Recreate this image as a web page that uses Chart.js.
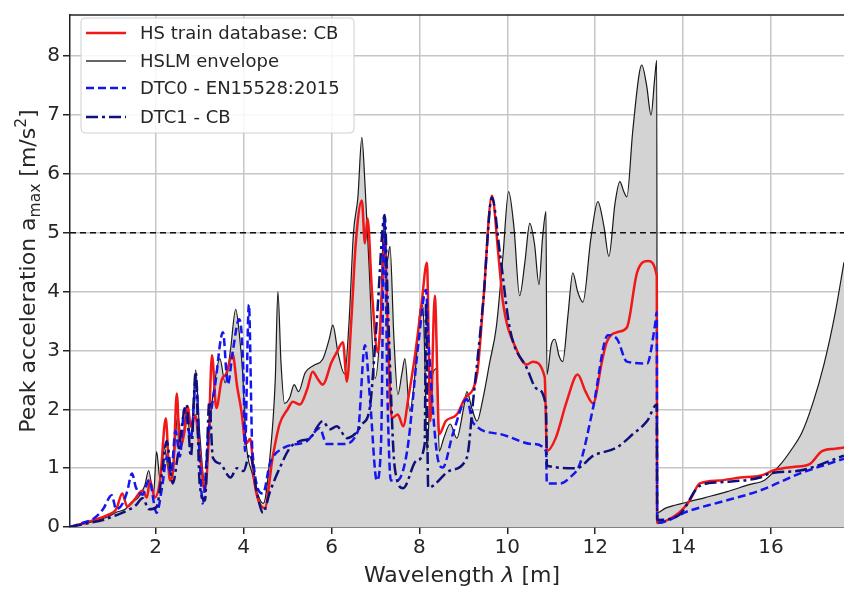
<!DOCTYPE html>
<html>
<head>
<meta charset="utf-8">
<script src="https://cdn.jsdelivr.net/npm/chart.js@4/dist/chart.umd.min.js"></script>
<style>
  html, body { margin: 0; padding: 0; background: #fff; }
  canvas { display: block; }
</style>
</head>
<body>
<canvas id="myChart" width="844" height="590"></canvas>
<script>
// tick labels
var xTicks = [2, 4, 6, 8, 10, 12, 14, 16];
var yTicks = [0, 1, 2, 3, 4, 5, 6, 7, 8];
var xRange = [0.05, 17.66];
var yRange = [0, 8.7];
var limitY = 5;

var seriesNames = ["HS train database: CB", "HSLM envelope", "DTC0 - EN15528:2015", "DTC1 - CB"];

// HSLM envelope
var envX = [0.05, 0.3, 0.6, 0.9, 1.1, 1.3, 1.45, 1.6, 1.75, 1.84, 1.95, 2.02, 2.1, 2.2, 2.3, 2.4, 2.5, 2.6, 2.7, 2.8,
  2.91, 3.0, 3.12, 3.25, 3.35, 3.46, 3.58, 3.7, 3.82, 3.9, 3.98, 4.05, 4.2, 4.35, 4.45, 4.6, 4.72, 4.78, 4.85, 4.93,
  5.05, 5.15, 5.25, 5.4, 5.6, 5.8, 5.95, 6.03, 6.15, 6.3, 6.4, 6.5, 6.6, 6.69, 6.76, 6.85, 6.99, 7.1, 7.2, 7.26,
  7.33, 7.42, 7.51, 7.6, 7.67, 7.78, 7.9, 8.02, 8.08, 8.13, 8.17, 8.23, 8.3, 8.4, 8.45, 8.55, 8.7, 8.85, 9.0, 9.08,
  9.2, 9.31, 9.45, 9.6, 9.75, 9.9, 10.03, 10.15, 10.28, 10.4, 10.51, 10.62, 10.72, 10.8, 10.88, 10.9, 11.0, 11.08, 11.18, 11.26,
  11.38, 11.49, 11.6, 11.72, 11.9, 12.06, 12.2, 12.31, 12.45, 12.56, 12.65, 12.72, 12.85, 13.0, 13.06, 13.17, 13.27, 13.35, 13.4, 13.41,
  13.6, 14.08, 14.5, 15.0, 15.5, 15.86, 16.2, 16.45, 16.7, 16.95, 17.2, 17.45, 17.66];
var envY = [0, 0.04, 0.1, 0.17, 0.25, 0.3, 0.42, 0.5, 0.7, 0.96, 0.55, 1.28, 0.8, 1.35, 0.95, 1.05, 1.9, 1.4, 2.0, 1.5,
  2.67, 1.6, 0.74, 1.9, 2.5, 2.86, 2.45, 3.0, 3.7, 3.3, 2.6, 1.5, 0.9, 0.5, 0.4, 1.2, 2.5, 4.0, 2.8, 2.1,
  2.2, 2.42, 2.3, 2.62, 2.75, 2.85, 3.2, 3.43, 2.95, 2.6, 3.5, 5.0, 5.6, 6.62, 5.85, 4.5, 2.52, 3.3, 5.3, 4.5,
  4.77, 3.2, 2.25, 2.6, 2.86, 1.97, 2.6, 3.7, 3.76, 2.6, 1.29, 2.0, 2.6, 2.69, 1.29, 1.5, 1.75, 1.51, 2.0, 2.3,
  2.0, 1.8, 2.2, 2.8, 3.4, 4.6, 5.7, 5.1, 3.93, 4.5, 5.16, 4.8, 4.12, 4.9, 5.36, 2.59, 3.1, 3.19, 2.9, 2.81,
  3.6, 4.32, 4.0, 3.82, 4.9, 5.53, 5.1, 4.6, 5.5, 5.87, 5.7, 5.61, 6.7, 7.7, 7.85, 7.5, 7.0, 7.6, 7.93, 0.24,
  0.32, 0.42, 0.5, 0.6, 0.72, 0.8, 1.05, 1.3, 1.6, 2.1, 2.75, 3.6, 4.5];

// HS train database: CB
var hsX = [0.05, 0.3, 0.6, 0.9, 1.1, 1.24, 1.35, 1.5, 1.7, 1.8, 1.87, 1.98, 2.1, 2.23, 2.32, 2.4, 2.48, 2.55, 2.65, 2.73,
  2.8, 2.9, 3.0, 3.12, 3.2, 3.28, 3.38, 3.5, 3.6, 3.75, 3.85, 3.95, 4.05, 4.15, 4.25, 4.48, 4.66, 4.82, 5.0, 5.12,
  5.28, 5.45, 5.57, 5.7, 5.8, 6.0, 6.12, 6.26, 6.35, 6.45, 6.55, 6.69, 6.76, 6.82, 6.92, 7.05, 7.15, 7.21, 7.27, 7.37,
  7.51, 7.63, 7.75, 7.9, 8.05, 8.17, 8.25, 8.35, 8.45, 8.6, 8.85, 9.03, 9.31, 9.45, 9.65, 9.8, 9.9, 10.2, 10.45, 10.58,
  10.85, 10.9, 11.1, 11.35, 11.6, 11.78, 11.95, 12.15, 12.26, 12.5, 12.72, 12.95, 13.2, 13.4, 13.41, 13.9, 14.15, 14.38, 14.83, 15.3,
  15.75, 16.09, 16.5, 16.88, 17.16, 17.45, 17.66];
var hsY = [0, 0.05, 0.12, 0.2, 0.3, 0.57, 0.35, 0.45, 0.62, 0.5, 0.79, 0.5, 0.8, 1.85, 0.79, 1.0, 2.27, 1.34, 1.6, 2.05,
  1.7, 1.9, 1.3, 0.62, 1.4, 2.92, 2.02, 2.5, 2.6, 2.94, 2.4, 1.97, 1.41, 1.5, 0.74, 0.32, 1.18, 1.75, 2.0, 2.13,
  2.08, 2.35, 2.64, 2.5, 2.42, 2.8, 2.97, 3.14, 2.47, 3.5, 4.8, 5.55, 4.82, 5.24, 4.0, 2.97, 4.0, 4.94, 3.6, 1.85,
  1.91, 1.71, 2.2, 2.92, 3.8, 4.49, 1.8, 3.93, 1.58, 1.8, 1.91, 2.18, 2.59, 3.8, 5.63, 4.6, 3.82, 3.03, 2.76, 2.81,
  2.55, 1.29, 1.51, 2.13, 2.59, 2.3, 2.1, 2.8, 3.14, 3.31, 3.39, 4.32, 4.52, 4.27, 0.07, 0.24, 0.45, 0.74, 0.79, 0.84,
  0.87, 0.97, 1.02, 1.07, 1.29, 1.33, 1.35];

// DTC0 - EN15528:2015
var dtc0X = [0.05, 0.3, 0.6, 0.8, 1.0, 1.1, 1.25, 1.35, 1.46, 1.55, 1.7, 1.85, 2.02, 2.15, 2.25, 2.35, 2.45, 2.55, 2.65, 2.8,
  2.92, 3.0, 3.07, 3.2, 3.35, 3.53, 3.64, 3.75, 3.9, 4.0, 4.03, 4.12, 4.2, 4.44, 4.6, 4.9, 5.44, 5.73, 5.89, 6.26,
  6.6, 6.76, 6.88, 7.03, 7.13, 7.2, 7.28, 7.35, 7.49, 7.72, 7.98, 8.15, 8.2, 8.4, 8.53, 8.76, 9.08, 9.22, 9.83, 10.58,
  10.88, 10.9, 11.2, 11.42, 11.65, 11.95, 12.29, 12.5, 12.72, 13.18, 13.36, 13.4, 13.41, 14.15, 14.83, 15.75, 16.66, 17.66];
var dtc0Y = [0, 0.06, 0.15, 0.3, 0.54, 0.3, 0.4, 0.6, 0.91, 0.67, 0.55, 0.8, 0.24, 0.7, 1.18, 0.9, 1.63, 1.2, 2.0, 1.51,
  2.5, 1.2, 0.4, 1.6, 2.4, 3.31, 2.42, 2.97, 3.53, 2.5, 1.29, 3.78, 1.29, 0.57, 1.08, 1.34, 1.46, 1.68, 1.41, 1.41,
  1.63, 3.09, 2.13, 0.79, 1.5, 5.24, 2.0, 0.79, 0.79, 1.29, 3.14, 4.03, 3.26, 1.24, 1.01, 1.58, 2.17, 1.77, 1.58, 1.41,
  1.29, 0.74, 0.74, 0.84, 1.07, 2.02, 3.26, 3.19, 2.81, 2.78, 3.43, 3.65, 0.07, 0.28, 0.42, 0.62, 0.91, 1.16];

// DTC1 - CB
var dtc1X = [0.05, 0.5, 0.8, 1.1, 1.35, 1.55, 1.7, 1.85, 2.02, 2.15, 2.25, 2.39, 2.5, 2.7, 2.8, 2.91, 3.0, 3.12, 3.22, 3.3,
  3.46, 3.7, 3.85, 4.0, 4.14, 4.3, 4.44, 4.6, 4.82, 5.05, 5.28, 5.51, 5.8, 5.96, 6.12, 6.35, 6.53, 6.7, 6.87, 7.03,
  7.21, 7.28, 7.44, 7.63, 7.94, 8.12, 8.15, 8.2, 8.7, 9.08, 9.22, 9.45, 9.65, 9.83, 10.06, 10.45, 10.67, 10.88, 10.9, 11.58,
  11.95, 12.49, 12.86, 13.18, 13.4, 13.41, 13.9, 14.38, 14.83, 15.75, 15.97, 16.66, 17.66];
var dtc1Y = [0, 0.07, 0.12, 0.2, 0.28, 0.37, 0.49, 0.3, 0.34, 0.96, 1.46, 0.74, 1.2, 2.08, 1.2, 2.64, 0.74, 0.45, 2.13, 1.18,
  1.08, 0.84, 1.0, 0.95, 1.24, 0.6, 0.24, 0.6, 1.0, 1.34, 1.46, 1.51, 1.8, 1.66, 1.71, 1.51, 1.58, 1.75, 2.02, 3.5,
  5.3, 3.8, 1.0, 0.66, 1.13, 1.41, 3.8, 0.67, 0.96, 1.18, 2.13, 3.82, 5.6, 4.66, 3.36, 2.69, 2.35, 2.05, 1.04, 1.0,
  1.21, 1.35, 1.58, 1.8, 2.08, 0.12, 0.2, 0.7, 0.76, 0.84, 0.91, 0.96, 1.21];

function pts(xs, ys) {
  return xs.map(function(x, i) { return { x: x, y: ys[i] }; });
}

var FONT = "'DejaVu Sans', 'Liberation Sans', sans-serif";
var TXT = "#262626";

// legend styles, same order as seriesNames
var legendStyles = [
  { color: "#f01818", width: 2.5, dash: [] },
  { color: "#333333", width: 1.5, dash: [] },
  { color: "#1515f0", width: 2.5, dash: [8, 4] },
  { color: "#10107a", width: 2.5, dash: [12, 4, 3, 4] }
];

function drawPieces(ctx, pieces, cx, cy, rotate) {
  ctx.save();
  ctx.translate(cx, cy);
  if (rotate) ctx.rotate(-Math.PI / 2);
  ctx.fillStyle = TXT;
  ctx.textAlign = "left";
  ctx.textBaseline = "alphabetic";
  var total = 0;
  pieces.forEach(function(p) {
    ctx.font = (p.italic ? "italic " : "") + p.size + "px " + FONT;
    p.w = ctx.measureText(p.t).width;
    total += p.w;
  });
  var x = -total / 2;
  pieces.forEach(function(p) {
    ctx.font = (p.italic ? "italic " : "") + p.size + "px " + FONT;
    ctx.fillText(p.t, x, p.dy || 0);
    x += p.w;
  });
  ctx.restore();
}

var decor = {
  id: "decor",
  afterDraw: function(chart) {
    var ctx = chart.ctx;
    var a = chart.chartArea;

    // top spine
    ctx.save();
    ctx.strokeStyle = "#222";
    ctx.lineWidth = 1.5;
    ctx.beginPath();
    ctx.moveTo(a.left, a.top);
    ctx.lineTo(a.right, a.top);
    ctx.stroke();
    ctx.restore();

    // legend frame
    var bx = 81, by = 18, bw = 273, bh = 115, r = 4;
    ctx.save();
    ctx.beginPath();
    ctx.moveTo(bx + r, by);
    ctx.lineTo(bx + bw - r, by);
    ctx.arcTo(bx + bw, by, bx + bw, by + r, r);
    ctx.lineTo(bx + bw, by + bh - r);
    ctx.arcTo(bx + bw, by + bh, bx + bw - r, by + bh, r);
    ctx.lineTo(bx + r, by + bh);
    ctx.arcTo(bx, by + bh, bx, by + bh - r, r);
    ctx.lineTo(bx, by + r);
    ctx.arcTo(bx, by, bx + r, by, r);
    ctx.closePath();
    ctx.fillStyle = "rgba(255,255,255,0.85)";
    ctx.fill();
    ctx.strokeStyle = "#d0d0d0";
    ctx.lineWidth = 1;
    ctx.stroke();

    var rows = [33, 61, 88, 117];
    seriesNames.forEach(function(name, i) {
      var s = legendStyles[i];
      ctx.beginPath();
      ctx.setLineDash(s.dash);
      ctx.strokeStyle = s.color;
      ctx.lineWidth = s.width;
      ctx.moveTo(86, rows[i]);
      ctx.lineTo(126, rows[i]);
      ctx.stroke();
      ctx.setLineDash([]);
      ctx.fillStyle = TXT;
      ctx.font = "18px " + FONT;
      ctx.textBaseline = "middle";
      ctx.textAlign = "left";
      ctx.fillText(name, 140, rows[i] + 1);
    });
    ctx.restore();

    // axis titles
    drawPieces(ctx, [
      { t: "Wavelength ", size: 22 },
      { t: "\u03bb", size: 22, italic: true },
      { t: " [m]", size: 22 }
    ], (a.left + a.right) / 2 + 5, 582, false);

    drawPieces(ctx, [
      { t: "Peak acceleration a", size: 22 },
      { t: "max", size: 15.5, dy: 5 },
      { t: " [m/s", size: 22 },
      { t: "2", size: 15.5, dy: -9 },
      { t: "]", size: 22 }
    ], 35, (a.top + a.bottom) / 2, true);
  }
};

var ctx = document.getElementById("myChart").getContext("2d");
var myChart = new Chart(ctx, {
  type: "line",
  data: {
    datasets: [
      {
        label: "limit",
        data: [{ x: xRange[0], y: limitY }, { x: xRange[1], y: limitY }],
        borderColor: "#111",
        borderWidth: 1.3,
        borderDash: [6, 4],
        fill: false,
        order: 5
      },
      {
        label: seriesNames[0],
        data: pts(hsX, hsY),
        borderColor: legendStyles[0].color,
        borderWidth: 2.5,
        fill: false,
        order: 4
      },
      {
        label: seriesNames[1],
        data: pts(envX, envY),
        borderColor: "#1a1a1a",
        borderWidth: 1.2,
        backgroundColor: "#d3d3d3",
        fill: "origin",
        order: 6
      },
      {
        label: seriesNames[2],
        data: pts(dtc0X, dtc0Y),
        borderColor: legendStyles[2].color,
        borderWidth: 2.5,
        borderDash: legendStyles[2].dash,
        fill: false,
        order: 3
      },
      {
        label: seriesNames[3],
        data: pts(dtc1X, dtc1Y),
        borderColor: legendStyles[3].color,
        borderWidth: 2.5,
        borderDash: legendStyles[3].dash,
        fill: false,
        order: 2
      }
    ]
  },
  options: {
    responsive: false,
    animation: false,
    layout: { padding: { top: 9, right: 0, bottom: 0, left: 0 } },
    elements: {
      point: { radius: 0 },
      line: { cubicInterpolationMode: "monotone" }
    },
    plugins: {
      legend: { display: false },
      tooltip: { enabled: false }
    },
    scales: {
      x: {
        type: "linear",
        min: xRange[0],
        max: xRange[1],
        afterBuildTicks: function(scale) {
          scale.ticks = xTicks.map(function(v) { return { value: v }; });
        },
        afterFit: function(scale) { scale.height = 63; },
        ticks: {
          color: TXT,
          font: { family: FONT, size: 20 },
          padding: 2,
          maxRotation: 0,
          autoSkip: false
        },
        grid: { color: "#c6c6c6", lineWidth: 1.5, tickColor: "#262626", tickLength: 7, tickWidth: 1.5 },
        border: { color: "#222", width: 1.5 }
      },
      y: {
        min: yRange[0],
        max: yRange[1],
        afterBuildTicks: function(scale) {
          scale.ticks = yTicks.map(function(v) { return { value: v }; });
        },
        afterFit: function(scale) { scale.width = 70; },
        ticks: {
          color: TXT,
          font: { family: FONT, size: 20 },
          padding: 3
        },
        grid: { color: "#c6c6c6", lineWidth: 1.5, tickColor: "#262626", tickLength: 7, tickWidth: 1.5 },
        border: { color: "#222", width: 1.5 }
      }
    }
  },
  plugins: [decor]
});
</script>
</body>
</html>
